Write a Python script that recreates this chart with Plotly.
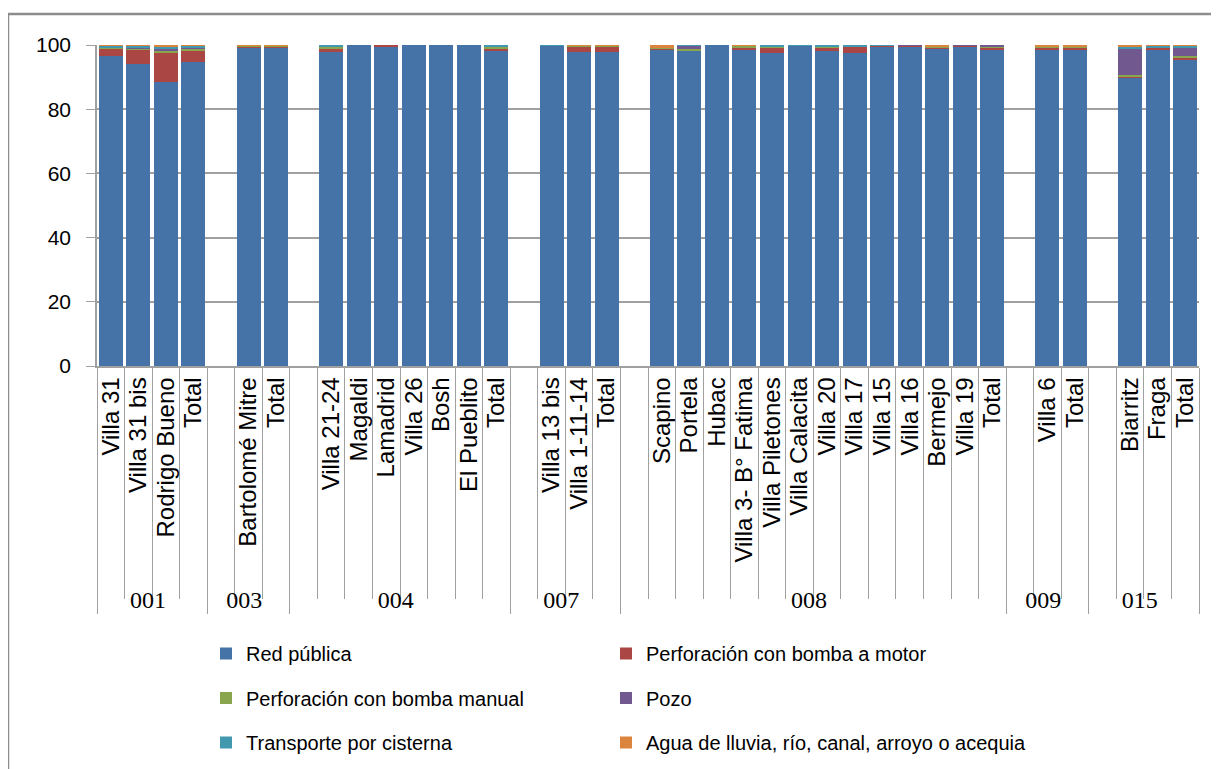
import plotly.graph_objects as go

group_names = ["001", "003", "004", "007", "008", "009", "015"]
group_sizes = [4, 3, 8, 4, 14, 3, 4]
subcats = ["Villa 31", "Villa 31 bis", "Rodrigo Bueno", "Total",
           "", "Bartolomé Mitre", "Total",
           "", "Villa 21-24", "Magaldi", "Lamadrid", "Villa 26", "Bosh", "El Pueblito", "Total",
           "", "Villa 13 bis", "Villa 1-11-14", "Total",
           "", "Scapino", "Portela", "Hubac", "Villa 3- B° Fatima", "Villa Piletones", "Villa Calacita",
           "Villa 20", "Villa 17", "Villa 15", "Villa 16", "Bermejo", "Villa 19", "Total",
           "", "Villa 6", "Total",
           "", "Biarritz", "Fraga", "Total"]

red_publica = [96.6, 94.0, 88.6, 94.8,
               None, 99.2, 99.2,
               None, 97.8, 100, 99.5, 100, 100, 100, 98.1,
               None, 99.9, 97.8, 97.8,
               None, 98.5, 98.4, 100, 98.5, 97.4, 99.9, 98.1, 97.4, 99.4, 99.4, 99.0, 99.4, 98.5,
               None, 98.6, 98.6,
               None, 89.9, 98.6, 95.6]
bomba_motor = [2.4, 4.5, 9.2, 3.6,
               None, 0.3, 0.3,
               None, 1.0, 0, 0.5, 0, 0, 0, 0.8,
               None, 0, 1.6, 1.6,
               None, 0.3, 0, 0, 0.7, 1.8, 0, 1.2, 2.0, 0.5, 0.5, 0.2, 0.5, 0.8,
               None, 0.6, 0.6,
               None, 0.4, 0.6, 0.4]
bomba_manual = [0.3, 0.4, 0.4, 0.5,
                None, 0.3, 0.3,
                None, 0.6, 0, 0, 0, 0, 0, 0.4,
                None, 0, 0.3, 0.3,
                None, 0.3, 0.5, 0, 0.5, 0.2, 0, 0.2, 0.2, 0, 0, 0.2, 0, 0.2,
                None, 0.4, 0.4,
                None, 0.3, 0, 0.5]
pozo = [0, 0.2, 0.7, 0.3,
        None, 0, 0,
        None, 0, 0, 0, 0, 0, 0, 0,
        None, 0, 0, 0,
        None, 0, 0.8, 0, 0, 0, 0, 0, 0, 0, 0.1, 0, 0.1, 0.5,
        None, 0, 0,
        None, 8.3, 0, 2.7]
cisterna = [0.5, 0.8, 0.4, 0.5,
            None, 0, 0,
            None, 0.6, 0, 0, 0, 0, 0, 0.7,
            None, 0.1, 0, 0,
            None, 0.1, 0.3, 0, 0, 0.6, 0.1, 0.5, 0.4, 0.1, 0, 0, 0, 0,
            None, 0, 0,
            None, 0.5, 0.6, 0.5]
agua_lluvia = [0.2, 0.1, 0.7, 0.3,
               None, 0.2, 0.2,
               None, 0, 0, 0, 0, 0, 0, 0,
               None, 0, 0.3, 0.3,
               None, 0.8, 0, 0, 0.3, 0, 0, 0, 0, 0, 0, 0.6, 0, 0,
               None, 0.4, 0.4,
               None, 0.6, 0.2, 0.3]

series_names = ["Red pública", "Perforación con bomba a motor", "Perforación con bomba manual",
                "Pozo", "Transporte por cisterna", "Agua de lluvia, río, canal, arroyo o acequia"]
series_values = [red_publica, bomba_motor, bomba_manual, pozo, cisterna, agua_lluvia]
colors = ["#4572A7", "#AA4643", "#89A54E", "#71588F", "#4198AF", "#DB843D"]
legend_ids = ["legend", "legend2", "legend", "legend2", "legend", "legend2"]

# build multicategory coordinates (zero-width spaces keep repeated labels unique, preserving order)
serif_span = '<span style="font-family:Liberation Serif, DejaVu Serif, serif">{}</span>'
groups = []
for g, n in zip(group_names, group_sizes):
    groups += [serif_span.format(g)] * n
subs_unique = [s + "\u200b" * i for i, s in enumerate(subcats)]

fig = go.Figure()
for i, (name, vals) in enumerate(zip(series_names, series_values)):
    fig.add_trace(go.Bar(
        x=[groups, subs_unique], y=vals, name=name,
        marker=dict(color=colors[i], line=dict(width=0)),
        legend=legend_ids[i], legendgroup="g%d" % i, legendrank=i,
    ))

font_sans = "Liberation Sans, Arial, sans-serif"
grid_col = "#A0A0A0"

W, H = 1211, 761
leg_common = dict(orientation="v", xref="container", yref="container",
                  xanchor="left", yanchor="middle", y=1 - 690 / H,
                  tracegroupgap=15.5,
                  font=dict(family=font_sans, size=20, color="#000000"),
                  bgcolor="rgba(0,0,0,0)", traceorder="grouped")

fig.update_layout(
    width=W, height=H,
    margin=dict(l=89, r=20, t=37, b=403, autoexpand=False),
    paper_bgcolor="white", plot_bgcolor="white",
    barmode="stack", bargap=0.13,
    font=dict(family=font_sans, color="#000000"),
    legend=dict(x=(212 - 14) / W, **leg_common),
    legend2=dict(x=(612 - 14) / W, **leg_common),
    xaxis=dict(
        type="multicategory",
        tickangle=-90, tickmode="linear", tick0=0, dtick=1,
        tickfont=dict(family=font_sans, size=24, color="#000000"),
        showline=True, linecolor=grid_col, linewidth=1.5,
        ticks="outside", ticklen=231, tickcolor=grid_col, tickwidth=1,
        showdividers=True, dividercolor=grid_col, dividerwidth=1,
        showgrid=False, automargin=False,
    ),
    yaxis=dict(
        range=[0, 100], tickvals=[0, 20, 40, 60, 80, 100],
        tickfont=dict(family=font_sans, size=21, color="#000000"),
        showgrid=True, gridcolor=grid_col, gridwidth=1.5,
        showline=True, linecolor=grid_col, linewidth=1.5,
        ticks="outside", ticklen=9, tickcolor=grid_col, ticklabelstandoff=11,
        zeroline=False, automargin=False,
    ),
    shapes=[dict(type="rect", xref="paper", yref="paper",
                 x0=-0.0808, y0=1.0966, x1=1.03, y1=-1.35,
                 line=dict(color="#8C8C8C", width=2.5), fillcolor="rgba(0,0,0,0)",
                 layer="below")],
)

fig.write_html("out.html")
